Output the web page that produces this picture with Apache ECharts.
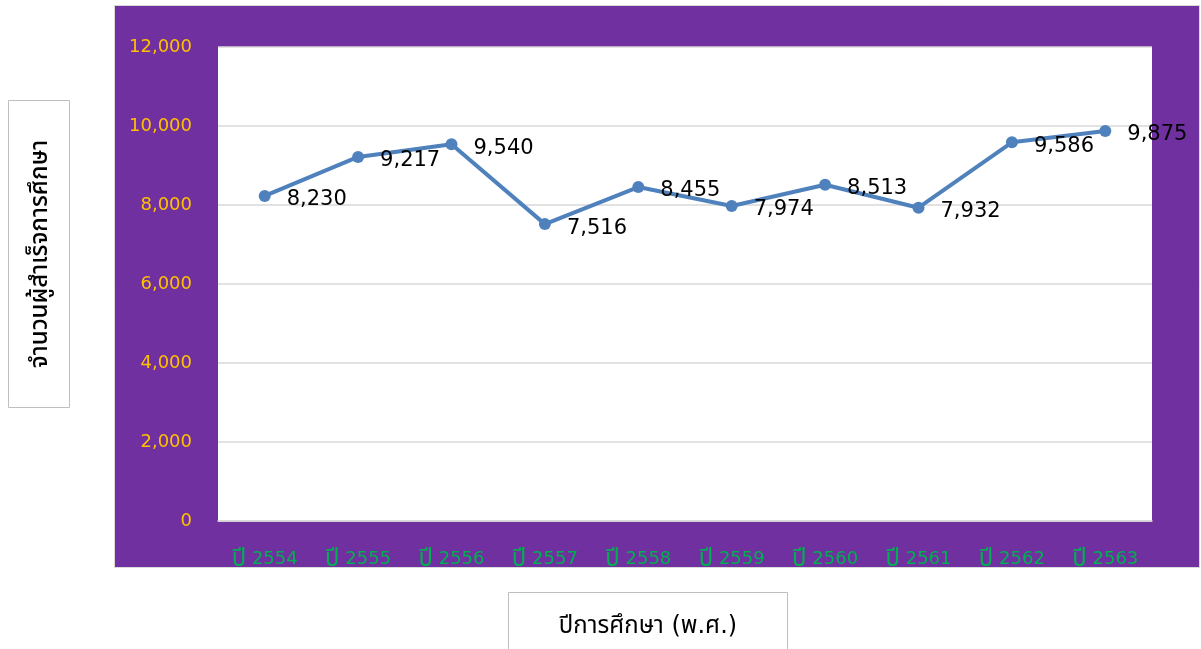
<!DOCTYPE html>
<html><head><meta charset="utf-8">
<script src="https://cdn.jsdelivr.net/npm/echarts@6/dist/echarts.min.js"></script>
<style>html,body{margin:0;padding:0;background:#fff}#c{width:1201px;height:649px}</style>
</head><body><div id="c"></div>
<script>
const categories = ['ปี 2554','ปี 2555','ปี 2556','ปี 2557','ปี 2558','ปี 2559','ปี 2560','ปี 2561','ปี 2562','ปี 2563'];
const graduates = [8230, 9217, 9540, 7516, 8455, 7974, 8513, 7932, 9586, 9875];
const yTitle = 'จำนวนผู้สำเร็จการศึกษา';
const xTitle = 'ปีการศึกษา (พ.ศ.)';
const FONT = 'Tahoma, "DejaVu Sans", "Noto Sans", "Noto Sans Thai", sans-serif';

const chart = echarts.init(document.getElementById('c'));
chart.setOption({
  animation: false,
  backgroundColor: '#fff',
  textStyle: { fontFamily: FONT },
  graphic: [
    { type: 'rect', z: -10, shape: { x: 114.5, y: 5.5, width: 1085, height: 562 },
      style: { fill: '#7030A0', stroke: '#D9D9D9', lineWidth: 1 } },
    { type: 'rect', z: -10, shape: { x: 8.5, y: 100.5, width: 61, height: 307 },
      style: { fill: '#fff', stroke: '#BFBFBF', lineWidth: 1 } },
    { type: 'text', z: 10, x: 41, y: 254, rotation: Math.PI / 2,
      style: { text: yTitle, fill: '#000', font: '500 24px ' + FONT, align: 'center', verticalAlign: 'middle' } },
    { type: 'rect', z: -10, shape: { x: 508.5, y: 592.5, width: 279, height: 70 },
      style: { fill: '#fff', stroke: '#BFBFBF', lineWidth: 1 } },
    { type: 'text', z: 10, x: 648, y: 627,
      style: { text: xTitle, fill: '#000', font: '24px ' + FONT, align: 'center', verticalAlign: 'middle' } }
  ],
  grid: { left: 218, right: 49, top: 47, bottom: 128, show: true, backgroundColor: '#fff', borderWidth: 0 },
  xAxis: {
    type: 'category', data: categories, boundaryGap: true,
    axisLine: { lineStyle: { color: '#D9D9D9', width: 1.5 } },
    axisTick: { show: false },
    axisLabel: { interval: 0, hideOverlap: false, color: '#00B050', fontSize: 18, margin: 27, fontFamily: FONT,
      formatter: v => { const i = v.indexOf(' '); return '{t|' + v.slice(0, i) + '}{n|' + v.slice(i) + '}'; },
      rich: { t: { fontSize: 24, color: '#00B050', fontFamily: FONT, verticalAlign: 'bottom' },
              n: { fontSize: 18, color: '#00B050', fontFamily: FONT, verticalAlign: 'bottom', padding: [0, 0, 4, 0] } } }
  },
  yAxis: {
    type: 'value', min: 0, max: 12000, interval: 2000,
    axisLine: { show: false }, axisTick: { show: false },
    splitLine: { lineStyle: { color: '#D9D9D9', width: 1.5 } },
    axisLabel: { color: '#FFC000', fontSize: 18, margin: 26, fontFamily: FONT, padding: [7, 0, 0, 0],
      formatter: v => v.toLocaleString('en-US') }
  },
  series: [{
    type: 'line', data: graduates,
    symbol: 'circle', symbolSize: 12,
    lineStyle: { color: '#4F81BD', width: 4 },
    itemStyle: { color: '#4F81BD' },
    label: { show: true, position: 'right', distance: 16, offset: [0, 4],
      color: '#000', fontSize: 21, fontFamily: FONT,
      formatter: p => p.value.toLocaleString('en-US') }
  }]
});
</script></body></html>
